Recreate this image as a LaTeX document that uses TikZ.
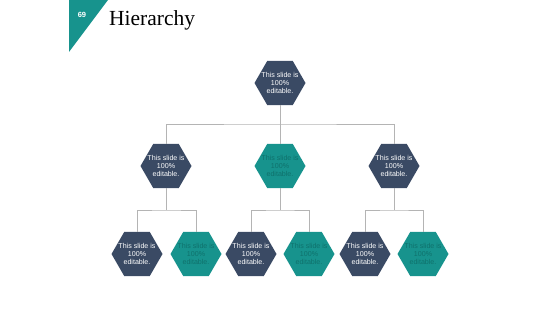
\documentclass[tikz,border=0pt]{standalone}
\usepackage{fontspec}
\setmainfont{Liberation Serif}
\newfontfamily\arialf{Liberation Sans}
\usetikzlibrary{shapes.geometric}
\definecolor{navy}{HTML}{3A4A64}
\definecolor{tealc}{HTML}{17938D}
\definecolor{tealtxt}{HTML}{0F716C}
\definecolor{linec}{HTML}{B4B4B4}
\tikzset{
  hexbase/.style={regular polygon, regular polygon sides=6, minimum size=51pt, inner sep=0pt, outer sep=0pt, draw=none},
  hexnavy/.style={hexbase, fill=navy},
  hexteal/.style={hexbase, fill=tealc},
  hxtxt/.style={align=center, font=\arialf\fontsize{7.1}{8}\selectfont, inner sep=0pt},
  navytxt/.style={hxtxt, text=white},
  tealtext/.style={hxtxt, text=tealtxt},
  conn/.style={draw=linec, line width=0.8pt},
}
\begin{document}
\begin{tikzpicture}[x=1pt,y=-1pt]
\useasboundingbox (0,0) rectangle (560,315);
% title corner
\fill[tealc] (69,0) -- (108,0) -- (69,52) -- cycle;
\node[text=white, font=\arialf\bfseries\fontsize{7.5}{8}\selectfont] (num) at (82,15) {69};
\node[anchor=base west, inner sep=0pt, font=\fontsize{21.5}{24}\selectfont] (title) at (109,26) {Hierarchy};
% hexagons
\node[hexnavy] (t) at (280,83) {};
\node[hexnavy] (m1) at (166,166) {};
\node[hexteal] (m2) at (280,166) {};
\node[hexnavy] (m3) at (394,166) {};
\node[hexnavy] (b1) at (137,254) {};
\node[hexteal] (b2) at (196,254) {};
\node[hexnavy] (b3) at (251,254) {};
\node[hexteal] (b4) at (309,254) {};
\node[hexnavy] (b5) at (365,254) {};
\node[hexteal] (b6) at (423,254) {};
% texts
\foreach \n/\s in {t/navytxt,m1/navytxt,m2/tealtext,m3/navytxt,b1/navytxt,b2/tealtext,b3/navytxt,b4/tealtext,b5/navytxt,b6/tealtext}{
  \node[\s] (\n txt) at (\n) {This slide is\\100\%\\editable.};
}
% connectors
\coordinate (j0) at (280,124);
\coordinate (j1) at (166,210);
\coordinate (j2) at (280,210);
\coordinate (j3) at (394,210);
\draw[conn] (t.south) -- (j0);
\draw[conn] (m1.north) |- (j0) -| (m3.north);
\draw[conn] (j0) -- (m2.north);
\draw[conn] (m1.south) -- (j1);
\draw[conn] (b1.north) |- (j1) -| (b2.north);
\draw[conn] (m2.south) -- (j2);
\draw[conn] (b3.north) |- (j2) -| (b4.north);
\draw[conn] (m3.south) -- (j3);
\draw[conn] (b5.north) |- (j3) -| (b6.north);
\end{tikzpicture}
\end{document}
